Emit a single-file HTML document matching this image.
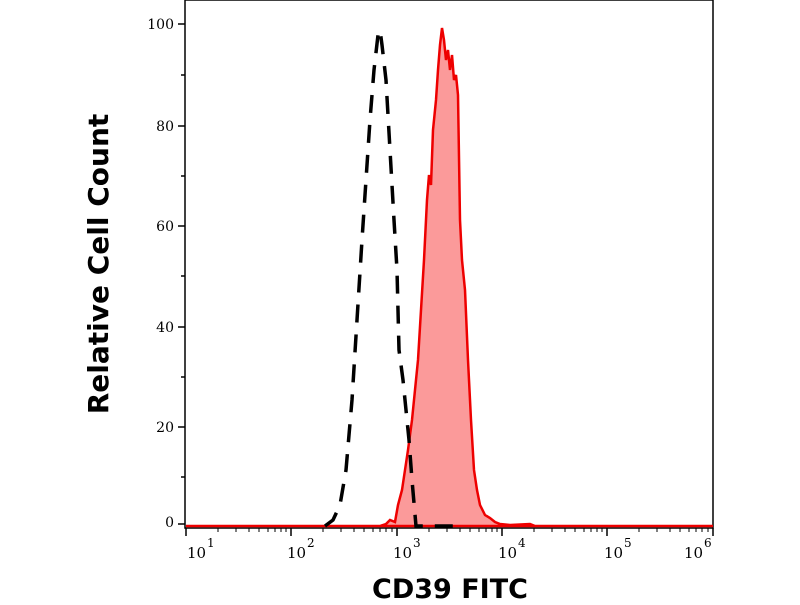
<!DOCTYPE html>
<html><head><style>body{margin:0;background:#fff;}</style></head><body>
<svg width="800" height="600" xmlns="http://www.w3.org/2000/svg">
<rect x="185" y="0" width="528" height="528" fill="#fff" stroke="#000" stroke-width="1.5"/>
<g stroke="#000" stroke-width="1.5">
<line x1="178" y1="24" x2="185" y2="24"/><line x1="178" y1="126" x2="185" y2="126"/><line x1="178" y1="226" x2="185" y2="226"/><line x1="178" y1="327" x2="185" y2="327"/><line x1="178" y1="427" x2="185" y2="427"/><line x1="178" y1="524" x2="185" y2="524"/>
<line x1="181" y1="75" x2="185" y2="75"/><line x1="181" y1="176" x2="185" y2="176"/><line x1="181" y1="276" x2="185" y2="276"/><line x1="181" y1="377" x2="185" y2="377"/><line x1="181" y1="477" x2="185" y2="477"/>
</g>
<g font-family="DejaVu Serif, serif" font-size="14" text-anchor="end">
<text x="174" y="29">100</text><text x="174" y="131">80</text><text x="174" y="231">60</text><text x="174" y="332">40</text><text x="174" y="432">20</text><text x="174" y="527">0</text>
</g>
<g font-family="DejaVu Serif, serif" font-size="15">
<text x="187" y="558">10</text><text x="207" y="547" font-size="12">1</text>
<text x="287" y="558">10</text><text x="307" y="547" font-size="12">2</text>
<text x="393" y="558">10</text><text x="413" y="547" font-size="12">3</text>
<text x="498" y="558">10</text><text x="518" y="547" font-size="12">4</text>
<text x="604" y="558">10</text><text x="624" y="547" font-size="12">5</text>
<text x="684" y="558">10</text><text x="704" y="547" font-size="12">6</text>
</g>
<path d="M186,526 L380,526 L386,524 L390,520 L395,522 L398,505 L402,490 L405,470 L408,450 L412,420 L415,390 L418,360 L421,310 L424,260 L427,200 L429,175 L431,185 L433,130 L436,100 L438,70 L440,45 L442,28 L444,40 L446,60 L448,50 L450,70 L452,55 L454,80 L456,75 L458,95 L460,220 L462,260 L465,290 L468,360 L471,420 L474,470 L477,490 L480,505 L485,515 L490,518 L495,522 L500,524 L510,525 L530,524 L535,526 L713,526 Z" fill="#fb9a9a" stroke="#e00" stroke-width="2.5"/>
<path d="M325,526 L333,520 L340,505 L346,470 L352,400 L357,320 L362,240 L366,180 L370,120 L374,70 L378,35 L380,30 L382,45 L386,80 L390,150 L394,220 L397,270 L399,350 L403,380 L406,410 L409,440 L412,480 L416,526 L460,526" fill="none" stroke="#000" stroke-width="3.5" stroke-dasharray="18,12"/>
<g stroke="#000" stroke-width="1.5">
<line x1="186" y1="528" x2="186" y2="536"/><line x1="291" y1="528" x2="291" y2="536"/><line x1="397" y1="528" x2="397" y2="536"/><line x1="502" y1="528" x2="502" y2="536"/><line x1="607" y1="528" x2="607" y2="536"/><line x1="713" y1="528" x2="713" y2="536"/>
</g>
<g stroke="#000" stroke-width="1">
<path d="M218,528v4M236,528v4M249,528v4M259,528v4M268,528v4M275,528v4M281,528v4M286,528v4
M323,528v4M341,528v4M354,528v4M364,528v4M373,528v4M380,528v4M386,528v4M392,528v4
M429,528v4M447,528v4M460,528v4M470,528v4M479,528v4M486,528v4M492,528v4M497,528v4
M534,528v4M552,528v4M565,528v4M575,528v4M584,528v4M591,528v4M597,528v4M602,528v4
M639,528v4M657,528v4M670,528v4M680,528v4M689,528v4M696,528v4M702,528v4M708,528v4"/>
</g>
<text x="450" y="598" font-family="DejaVu Sans, Liberation Sans, sans-serif" font-weight="bold" font-size="27" text-anchor="middle">CD39 FITC</text>
<text transform="translate(108,264) rotate(-90)" font-family="DejaVu Sans, Liberation Sans, sans-serif" font-weight="bold" font-size="28" text-anchor="middle">Relative Cell Count</text>
</svg>
</body></html>
